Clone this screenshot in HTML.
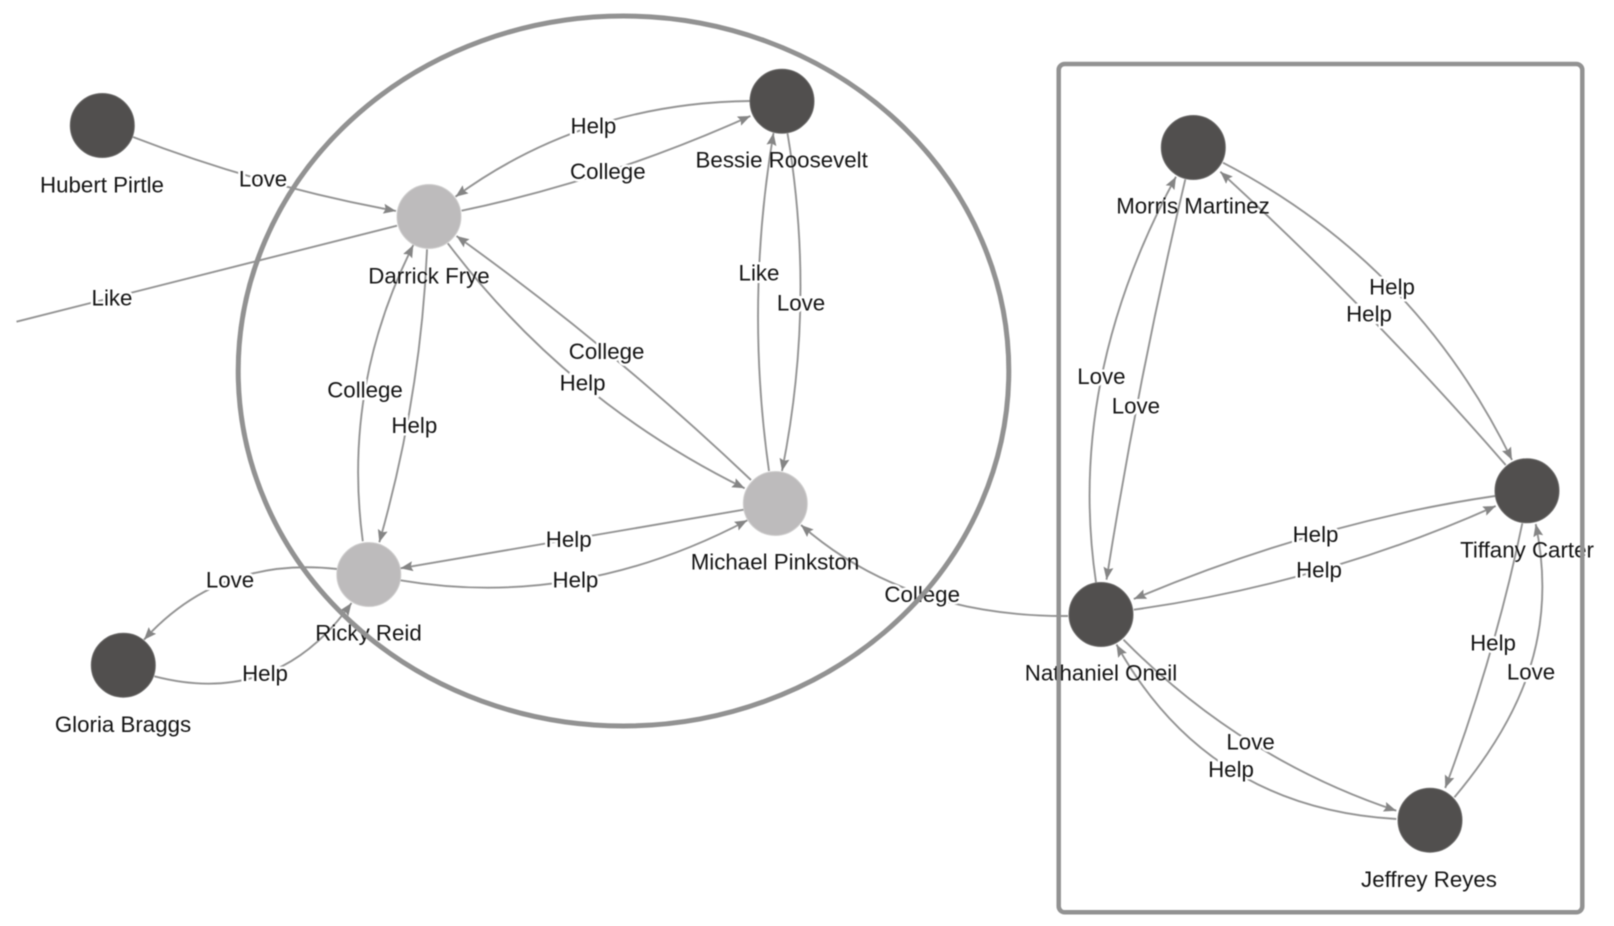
<!DOCTYPE html>
<html>
<head>
<meta charset="utf-8">
<style>
html,body{margin:0;padding:0;background:#fff;width:1614px;height:926px;overflow:hidden}
svg{display:block;filter:blur(.5px)}
text{font-family:"Liberation Sans",Arial,sans-serif;font-size:22.3px;fill:#141414;text-anchor:middle}
.el text{paint-order:stroke;stroke:#fff;stroke-width:5px;stroke-linejoin:miter}
.e path{fill:none;stroke:#949494;stroke-width:1.9}
.a{marker-end:url(#arr)}
</style>
</head>
<body>
<svg width="1614" height="926" viewBox="0 0 1614 926" xmlns="http://www.w3.org/2000/svg">
<defs>
<marker id="arr" markerUnits="userSpaceOnUse" markerWidth="14" markerHeight="12" refX="12.5" refY="5" orient="auto">
<path d="M0,0 L12.5,5 L0,10 L2,5 z" fill="#858585"/>
</marker>
</defs>

<g class="e">
<path class="a" d="M133,137 Q260,186 396,211"/>
<path d="M397,225.7 L16.5,321.7"/>
<path class="a" d="M750,101 Q584,103 455.5,196.7"/>
<path class="a" d="M461.6,210.7 Q608,180 750.4,116"/>
<path class="a" d="M751,480 Q610,346 456.5,236"/>
<path class="a" d="M447.8,243.3 Q567,401 744.7,488.3"/>
<path class="a" d="M769,471 Q745,302 773.5,133"/>
<path class="a" d="M787.5,133.3 Q816,302 782,471"/>
<path class="a" d="M362.8,541.3 Q342,387 413.3,245"/>
<path class="a" d="M427,249.3 Q421,396 379.3,542.3"/>
<path class="a" d="M743.7,509.7 L400.4,568.3"/>
<path class="a" d="M400.4,580.3 Q577,610 747.3,520.3"/>
<path class="a" d="M337,569 Q220,556 144,639.7"/>
<path class="a" d="M154.4,676.3 Q277,708 351.5,603"/>
<path class="a" d="M1068,616 Q906,617 801,525"/>
<path class="a" d="M1096,582.3 Q1066,380 1176,176.7"/>
<path class="a" d="M1185.3,179.3 Q1138,380 1106.5,579.7"/>
<path class="a" d="M1223,162.7 Q1416,263 1512,460"/>
<path class="a" d="M1505.7,465 Q1373,312 1220.3,171.7"/>
<path class="a" d="M1495,496 Q1317,522 1133.8,599"/>
<path class="a" d="M1133.8,609.7 Q1324,583 1495.7,506"/>
<path class="a" d="M1522.3,523.3 Q1495,655 1445.2,788"/>
<path class="a" d="M1454.4,797.3 C1515,725 1560,640 1535.7,524"/>
<path class="a" d="M1123.5,639.7 Q1241,759 1396.3,810.7"/>
<path class="a" d="M1396.3,819 Q1207,808 1116.5,644.5"/>
</g>

<g class="el" transform="translate(0,.7)">
<text x="263" y="186">Love</text>
<text x="112" y="305">Like</text>
<text x="593.4" y="132.7">Help</text>
<text x="607.8" y="178.3">College</text>
<text x="759" y="280">Like</text>
<text x="801" y="310">Love</text>
<text x="606.6" y="358.3">College</text>
<text x="582.6" y="390">Help</text>
<text x="365" y="396.7">College</text>
<text x="414.3" y="432.3">Help</text>
<text x="568.7" y="546.3">Help</text>
<text x="575.4" y="587">Help</text>
<text x="230" y="587">Love</text>
<text x="265" y="680.3">Help</text>
<text x="922.2" y="601.3">College</text>
<text x="1101.4" y="383.3">Love</text>
<text x="1135.9" y="412.7">Love</text>
<text x="1392" y="294">Help</text>
<text x="1369" y="320.7">Help</text>
<text x="1315.5" y="541.3">Help</text>
<text x="1319" y="577">Help</text>
<text x="1493" y="649.7">Help</text>
<text x="1531" y="679">Love</text>
<text x="1250.6" y="748.7">Love</text>
<text x="1231" y="776.3">Help</text>
</g>

<g transform="translate(0,.7)">
<text x="102" y="191.7">Hubert Pirtle</text>
<text x="429" y="282.7">Darrick Frye</text>
<text x="781.7" y="166.7">Bessie Roosevelt</text>
<text x="1193" y="213">Morris Martinez</text>
<text x="1527" y="556.7">Tiffany Carter</text>
<text x="1101" y="679.7">Nathaniel Oneil</text>
<text x="1429" y="886.3">Jeffrey Reyes</text>
<text x="775" y="568.7">Michael Pinkston</text>
<text x="368.5" y="639.7">Ricky Reid</text>
<text x="123" y="731.3">Gloria Braggs</text>
</g>

<g stroke-width="1">
<circle cx="102.3" cy="125.5" r="32" fill="#514f4e" stroke="#6a6968"/>
<circle cx="782" cy="101.2" r="32" fill="#514f4e" stroke="#6a6968"/>
<circle cx="1193.3" cy="147.5" r="32" fill="#514f4e" stroke="#6a6968"/>
<circle cx="1527" cy="490.8" r="32" fill="#514f4e" stroke="#6a6968"/>
<circle cx="1101" cy="614.5" r="32" fill="#514f4e" stroke="#6a6968"/>
<circle cx="1430" cy="820.2" r="32" fill="#514f4e" stroke="#6a6968"/>
<circle cx="123.3" cy="665.2" r="32" fill="#514f4e" stroke="#6a6968"/>
<circle cx="429" cy="216.5" r="32" fill="#bdbbbc" stroke="#d0cfcf"/>
<circle cx="775.3" cy="503.5" r="32" fill="#bdbbbc" stroke="#d0cfcf"/>
<circle cx="368.8" cy="574.5" r="32" fill="#bdbbbc" stroke="#d0cfcf"/>
</g>

<ellipse cx="623.5" cy="371" rx="385.3" ry="355" fill="none" stroke="#929292" stroke-width="5"/>
<rect x="1058.7" y="64" width="523.6" height="848.3" rx="6" ry="6" fill="none" stroke="#929292" stroke-width="4.5"/>
</svg>
</body>
</html>
